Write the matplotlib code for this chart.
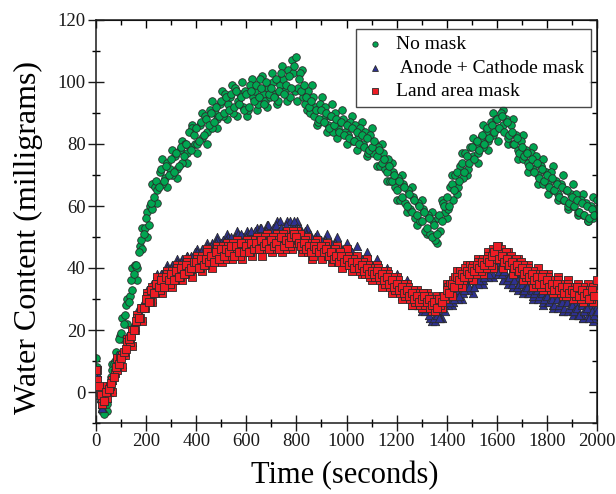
import numpy as np
import matplotlib.pyplot as plt
from matplotlib.ticker import MultipleLocator

# sample clock: readings on the 10 s mark, the 5 s mark in between,
# and a sparser run every 20 s starting at 3 s
time_a = np.arange(0, 2001, 10)
time_b = np.arange(5, 2000, 10)
time_c = np.arange(3, 2000, 20)

# No mask (green circles)
no_mask_a = [
    11, 2, -3, -7, -2, 1, 5, 9, 13, 17,
    19, 22, 28, 29, 36, 38, 41, 45, 49, 51,
    56, 54, 61, 63, 68, 66, 72, 68, 73, 70,
    75, 71, 77, 73, 79, 76, 80, 84, 78, 83,
    85, 81, 87, 83, 88, 86, 90, 87, 92, 89,
    94, 90, 95, 91, 96, 92, 97, 93, 95, 91,
    96, 92, 97, 94, 99, 95, 98, 93, 100, 96,
    98, 95, 101, 97, 103, 96, 99, 102, 98, 105,
    108, 101, 97, 99, 95, 92, 94, 89, 91, 88,
    91, 87, 90, 85, 89, 86, 88, 84, 87, 83,
    86, 82, 85, 81, 84, 80, 83, 79, 82, 78,
    79, 81, 76, 78, 74, 75, 71, 73, 68, 70,
    65, 68, 63, 66, 60, 64, 58, 62, 57, 60,
    55, 58, 53, 56, 50, 54, 51, 57, 55, 60,
    63, 60, 67, 65, 71, 68, 74, 71, 76, 74,
    79, 75, 81, 78, 83, 80, 85, 82, 86, 84,
    88, 85, 89, 84, 87, 83, 84, 80, 82, 77,
    79, 76, 77, 73, 75, 71, 74, 69, 72, 68,
    70, 66, 69, 65, 67, 63, 66, 62, 65, 61,
    63, 60, 62, 58, 61, 57, 60, 56, 59, 57,
    62,
]
no_mask_b = [
    8, -1, -6, -2, -4, 2, 7, 10, 11, 18,
    17, 25, 30, 31, 33, 41, 40, 47, 46, 53,
    58, 60, 59, 66, 65, 71, 67, 69, 74, 72,
    70, 76, 72, 78, 74, 80, 77, 79, 85, 80,
    80, 86, 82, 89, 84, 91, 85, 90, 88, 93,
    89, 96, 93, 95, 90, 98, 94, 96, 92, 97,
    91, 99, 95, 97, 93, 101, 96, 94, 98, 95,
    100, 96, 94, 99, 101, 97, 104, 95, 103, 97,
    98, 103, 95, 93, 97, 90, 95, 92, 87, 93,
    88, 92, 86, 89, 84, 90, 85, 87, 88, 84,
    83, 87, 81, 86, 82, 85, 80, 84, 77, 83,
    77, 80, 79, 73, 77, 72, 75, 68, 71, 66,
    69, 62, 67, 61, 65, 59, 63, 56, 61, 55,
    59, 52, 57, 51, 55, 49, 56, 52, 61, 58,
    59, 66, 62, 70, 66, 73, 69, 77, 72, 79,
    76, 80, 77, 82, 79, 84, 81, 87, 83, 88,
    85, 90, 86, 88, 82, 86, 80, 83, 78, 81,
    75, 78, 74, 77, 72, 76, 70, 73, 67, 71,
    67, 71, 65, 68, 64, 67, 62, 65, 60, 64,
    60, 64, 58, 62, 57, 61, 55, 60, 56, 59,
]
no_mask_c = [
    3, 0, -6, 9, 7, 24, 22, 40, 36, 53,
    50, 67, 61, 75, 66, 78, 69, 81, 74, 86,
    77, 90, 80, 94, 85, 97, 88, 99, 89, 100,
    89, 101, 91, 102, 92, 103, 93, 105, 94, 107,
    94, 104, 91, 99, 86, 95, 84, 93, 82, 91,
    80, 89, 78, 87, 76, 85, 73, 80, 68, 74,
    62, 70, 58, 66, 54, 62, 51, 58, 48, 62,
    56, 70, 64, 77, 70, 82, 74, 86, 78, 90,
    81, 91, 80, 88, 75, 83, 71, 79, 67, 75,
    64, 73, 62, 70, 59, 67, 57, 64, 55, 63,
]

# Anode + Cathode mask (blue triangles)
anode_cathode_a = [
    5, 1, -2, -3, -1, 0, 2, 6, 9, 10,
    12, 14, 15, 18, 19, 22, 23, 26, 27, 29,
    31, 32, 34, 33, 36, 35, 38, 37, 39, 38,
    40, 38, 41, 40, 42, 41, 43, 41, 44, 42,
    44, 43, 45, 44, 46, 45, 47, 46, 48, 47,
    48, 47, 49, 48, 50, 48, 49, 48, 51, 49,
    50, 49, 52, 50, 51, 50, 53, 51, 52, 50,
    52, 51, 54, 52, 53, 51, 54, 52, 53, 55,
    53, 51, 52, 50, 51, 49, 50, 48, 49, 47,
    49, 47, 48, 46, 48, 46, 47, 45, 46, 45,
    46, 44, 45, 43, 44, 42, 43, 41, 42, 41,
    41, 40, 39, 39, 37, 38, 36, 36, 35, 34,
    35, 33, 34, 32, 31, 32, 30, 30, 29, 28,
    28, 27, 27, 25, 26, 24, 25, 24, 27, 28,
    30, 29, 31, 30, 33, 31, 34, 33, 35, 34,
    36, 34, 37, 36, 38, 37, 39, 38, 40, 41,
    42, 39, 38, 39, 36, 37, 35, 36, 34, 35,
    35, 33, 34, 32, 33, 32, 33, 31, 32, 30,
    31, 29, 30, 28, 30, 28, 29, 27, 29, 27,
    28, 26, 27, 25, 28, 26, 27, 24, 26, 25,
    26,
]
anode_cathode_b = [
    3, -1, -4, -2, -2, 2, 4, 7, 8, 12,
    13, 13, 17, 17, 21, 21, 25, 25, 28, 28,
    32, 30, 35, 33, 37, 35, 38, 36, 40, 37,
    41, 39, 42, 39, 43, 40, 44, 42, 43, 45,
    45, 42, 46, 44, 47, 44, 48, 45, 49, 46,
    49, 46, 50, 47, 49, 50, 51, 48, 50, 48,
    51, 48, 50, 52, 49, 53, 50, 52, 54, 51,
    53, 50, 52, 55, 51, 53, 52, 55, 51, 54,
    51, 53, 50, 52, 49, 51, 48, 50, 47, 49,
    47, 49, 46, 48, 45, 48, 45, 47, 44, 46,
    44, 46, 43, 44, 42, 43, 41, 43, 40, 42,
    39, 41, 38, 40, 37, 38, 35, 37, 34, 36,
    33, 35, 32, 34, 31, 33, 29, 31, 28, 30,
    29, 26, 28, 24, 27, 23, 26, 24, 28, 26,
    28, 31, 29, 32, 30, 34, 32, 35, 33, 36,
    34, 37, 35, 38, 36, 39, 37, 40, 38, 42,
    38, 41, 36, 38, 35, 38, 34, 37, 33, 36,
    33, 35, 32, 34, 31, 34, 30, 33, 29, 32,
    29, 31, 28, 31, 27, 30, 26, 30, 26, 29,
    26, 29, 25, 28, 24, 27, 25, 28, 24, 27,
]
anode_cathode_c = [
    6, -5, 1, 1, 12, 9, 18, 16, 26, 24,
    33, 30, 38, 34, 41, 36, 43, 38, 44, 39,
    46, 41, 48, 43, 50, 44, 51, 45, 52, 46,
    52, 47, 53, 47, 54, 48, 55, 49, 55, 49,
    55, 48, 53, 46, 51, 45, 51, 44, 50, 43,
    48, 41, 47, 40, 45, 38, 43, 36, 40, 33,
    38, 31, 36, 28, 33, 26, 31, 23, 29, 24,
    32, 28, 35, 30, 37, 32, 39, 35, 42, 37,
    43, 36, 41, 34, 38, 32, 37, 30, 35, 28,
    34, 27, 32, 26, 31, 25, 30, 24, 29, 23,
]

# Land area mask (red squares)
land_area_a = [
    7, 2, -1, -3, 0, 1, 3, 5, 8, 9,
    11, 13, 14, 17, 18, 20, 23, 24, 27, 27,
    30, 29, 33, 32, 35, 34, 36, 34, 37, 36,
    38, 36, 39, 37, 40, 38, 41, 39, 40, 42,
    42, 40, 43, 41, 43, 42, 44, 42, 45, 43,
    46, 44, 46, 45, 47, 44, 47, 45, 48, 45,
    47, 45, 48, 46, 48, 46, 49, 47, 48, 46,
    49, 47, 48, 46, 50, 47, 49, 48, 50, 51,
    50, 48, 47, 48, 46, 47, 45, 47, 46, 45,
    47, 45, 46, 44, 45, 43, 44, 42, 44, 42,
    43, 41, 42, 40, 42, 40, 41, 39, 40, 38,
    39, 38, 39, 37, 38, 36, 37, 35, 36, 34,
    35, 33, 34, 32, 33, 31, 32, 30, 31, 29,
    30, 31, 29, 30, 28, 29, 27, 30, 29, 31,
    33, 32, 35, 34, 37, 36, 38, 37, 39, 38,
    40, 39, 41, 40, 42, 41, 43, 42, 44, 45,
    47, 43, 44, 42, 43, 41, 42, 40, 41, 39,
    40, 38, 39, 37, 38, 36, 37, 35, 37, 35,
    36, 34, 35, 33, 35, 33, 34, 32, 34, 32,
    33, 32, 34, 31, 33, 31, 32, 30, 33, 31,
    36,
]
land_area_b = [
    4, 0, -2, -1, -2, 2, 4, 6, 7, 11,
    12, 12, 16, 16, 20, 20, 24, 24, 27, 27,
    31, 29, 34, 32, 35, 33, 37, 35, 38, 35,
    39, 36, 40, 37, 41, 38, 42, 39, 41, 40,
    43, 40, 44, 41, 45, 42, 44, 43, 46, 43,
    47, 43, 47, 44, 48, 45, 47, 44, 48, 46,
    48, 45, 47, 49, 46, 49, 46, 50, 47, 49,
    50, 46, 49, 47, 51, 46, 50, 47, 52, 48,
    49, 51, 46, 49, 45, 48, 44, 48, 45, 47,
    45, 47, 44, 46, 43, 46, 42, 45, 42, 44,
    44, 41, 43, 40, 42, 39, 42, 38, 41, 37,
    40, 37, 40, 36, 39, 35, 38, 34, 37, 33,
    36, 32, 35, 31, 34, 30, 33, 29, 32, 28,
    32, 28, 31, 27, 30, 26, 29, 28, 31, 30,
    34, 35, 36, 37, 35, 39, 36, 40, 37, 41,
    41, 38, 42, 39, 43, 40, 44, 41, 46, 43,
    45, 46, 42, 45, 41, 44, 40, 43, 39, 42,
    41, 37, 40, 36, 39, 35, 38, 34, 38, 36,
    37, 33, 36, 34, 36, 32, 35, 31, 35, 32,
    34, 31, 33, 30, 34, 32, 33, 30, 34, 32,
]
land_area_c = [
    7, -4, 2, 0, 11, 8, 17, 15, 25, 23,
    32, 29, 37, 32, 39, 34, 41, 36, 43, 37,
    44, 39, 46, 40, 47, 42, 48, 43, 49, 43,
    49, 44, 50, 44, 51, 45, 51, 45, 52, 46,
    52, 45, 50, 43, 49, 43, 48, 42, 47, 40,
    46, 39, 44, 38, 43, 36, 41, 34, 39, 32,
    37, 30, 35, 28, 33, 27, 32, 26, 31, 27,
    35, 31, 39, 34, 41, 36, 43, 38, 45, 40,
    47, 40, 45, 38, 43, 36, 41, 34, 40, 33,
    38, 32, 37, 31, 36, 30, 35, 29, 35, 29,
]

plt.rcParams["font.family"] = ["Liberation Serif", "DejaVu Serif"]

fig = plt.figure(figsize=(6.16, 4.94), dpi=100)
ax = fig.add_axes([96 / 616, 71 / 494, 501 / 616, 403 / 494])

edge = "#2b2b2b"
series = [
    (no_mask_a, no_mask_b, no_mask_c, "o", 30, "#00a651", "No mask"),
    (anode_cathode_a, anode_cathode_b, anode_cathode_c, "^", 36, "#2e3192",
     " Anode + Cathode mask"),
    (land_area_a, land_area_b, land_area_c, "s", 28, "#ed1c24", "Land area mask"),
]
for z, (va, vb, vc, mk, size, col, lab) in enumerate(series):
    kw = dict(s=size, marker=mk, color=col, edgecolors=edge, linewidths=0.6,
              zorder=2 + z)
    ax.scatter(time_c, vc, **kw)
    ax.scatter(time_b, vb, **kw)
    ax.scatter(time_a, va, label=lab, **kw)

ax.set_xlim(0, 2000)
ax.set_ylim(-10, 120)
ax.xaxis.set_major_locator(MultipleLocator(200))
ax.xaxis.set_minor_locator(MultipleLocator(100))
ax.yaxis.set_major_locator(MultipleLocator(20))
ax.yaxis.set_minor_locator(MultipleLocator(10))

for sp in ax.spines.values():
    sp.set_linewidth(1.1)
    sp.set_color("#1a1a1a")

ax.tick_params(which="major", direction="inout", length=11, width=1.0,
               labelsize=13.5, colors="#1a1a1a", pad=2)
ax.tick_params(which="minor", direction="inout", length=6, width=1.0)

# inward ticks on top and right
top = ax.secondary_xaxis("top")
top.xaxis.set_major_locator(MultipleLocator(200))
top.xaxis.set_minor_locator(MultipleLocator(100))
top.tick_params(which="major", direction="in", length=6, width=1.0, labeltop=False)
top.tick_params(which="minor", direction="in", length=3.5, width=1.0)
right = ax.secondary_yaxis("right")
right.yaxis.set_major_locator(MultipleLocator(20))
right.yaxis.set_minor_locator(MultipleLocator(10))
right.tick_params(which="major", direction="in", length=6, width=1.0, labelright=False)
right.tick_params(which="minor", direction="in", length=3.5, width=1.0)

ax.set_xlabel("Time (seconds)", fontsize=22)
ax.set_ylabel("Water Content (milligrams)", fontsize=23)
ax.xaxis.set_label_coords(0.497, -0.13)
ax.yaxis.set_label_coords(-0.134, 0.46)
ax.xaxis.label.set_va("center")
ax.yaxis.label.set_va("center")

leg = ax.legend(loc="upper right", bbox_to_anchor=(0.988, 0.978),
                borderaxespad=0, fontsize=14, frameon=True, fancybox=False,
                edgecolor="#1a1a1a", markerscale=0.7, handlelength=1.2,
                handletextpad=0.5, labelspacing=0.3, borderpad=0.35)
leg.get_frame().set_linewidth(1.0)

fig.savefig("out.png", dpi=100)
